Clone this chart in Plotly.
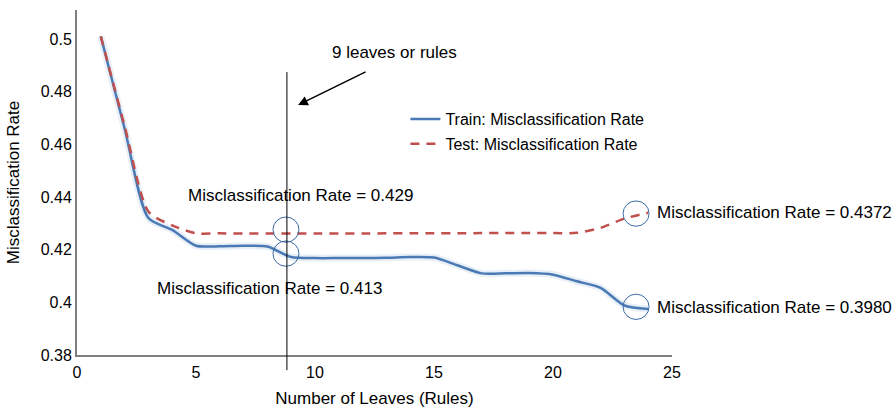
import plotly.graph_objects as go

leaves = [1, 2, 3, 4, 5, 6, 7, 8, 9, 10, 11, 12, 13, 14, 15, 16, 17, 18, 19, 20, 21, 22, 23, 24]
train_rate = [0.501, 0.466, 0.432, 0.4275, 0.4215, 0.4213, 0.4215, 0.4212, 0.4172, 0.4168,
              0.4168, 0.4168, 0.4169, 0.4172, 0.4170, 0.4140, 0.4110, 0.4110, 0.4111, 0.4105,
              0.4080, 0.4055, 0.3988, 0.3975]
test_rate = [0.501, 0.467, 0.4345, 0.4292, 0.4262, 0.4262, 0.4261, 0.4261, 0.4261, 0.4261,
             0.4261, 0.4261, 0.4262, 0.4262, 0.4262, 0.4262, 0.4263, 0.4263, 0.4263, 0.4263,
             0.4264, 0.4283, 0.4318, 0.4340]

x_ticks = [0, 5, 10, 15, 20, 25]
y_ticks = [0.38, 0.40, 0.42, 0.44, 0.46, 0.48, 0.50]
y_tick_labels = ["0.38", "0.4", "0.42", "0.44", "0.46", "0.48", "0.5"]

# highlighted points (circles) and their labels
circle_x = [8.78, 8.78, 23.49, 23.49]
circle_y = [0.4276, 0.4185, 0.4337, 0.3983]
label_text = ["Misclassification Rate = 0.429", "Misclassification Rate = 0.413",
              "Misclassification Rate = 0.4372", "Misclassification Rate = 0.3980"]
label_x = [4.58, 3.28, 24.28, 24.28]
label_y = [0.4406, 0.4051, 0.4341, 0.3979]

cut_leaves = 8.82
FONT = "Arial, Liberation Sans, sans-serif"

fig = go.Figure()
fig.add_trace(go.Scatter(x=leaves, y=train_rate, mode="lines", showlegend=False, hoverinfo="skip",
                         line=dict(color="rgba(79,129,189,0.13)", width=7, shape="spline", smoothing=0.7)))
fig.add_trace(go.Scatter(x=leaves, y=train_rate, mode="lines", name="Train: Misclassification Rate",
                         legendgroup="a",
                         line=dict(color="#4a7ab5", width=2.5, shape="spline", smoothing=0.7)))
fig.add_trace(go.Scatter(x=leaves, y=test_rate, mode="lines", name="Test: Misclassification Rate",
                         legendgroup="b",
                         line=dict(color="#c0504d", width=2.5, dash="9px,7px", shape="spline", smoothing=0.7)))

shapes = []
rx, ry = 0.546, 0.0048
for cx, cy in zip(circle_x, circle_y):
    shapes.append(dict(type="circle", xref="x", yref="y", x0=cx - rx, x1=cx + rx, y0=cy - ry, y1=cy + ry,
                       line=dict(color="#3d6aa6", width=1)))
shapes.append(dict(type="line", xref="x", yref="paper", x0=cut_leaves, x1=cut_leaves, y0=-0.044, y1=0.82,
                   line=dict(color="black", width=1)))

annotations = []
for t, lx, ly in zip(label_text, label_x, label_y):
    annotations.append(dict(x=lx, y=ly, xref="x", yref="y", text=t, showarrow=False, xanchor="left",
                            yanchor="middle", font=dict(family=FONT, size=17, color="black")))
annotations.append(dict(x=9.29, y=0.4749, xref="x", yref="y", text="", showarrow=True, ax=69, ay=-34,
                        arrowhead=2, arrowsize=1.3, arrowwidth=1.5, arrowcolor="black"))
annotations.append(dict(x=13.32, y=0.4947, xref="x", yref="y", text="9 leaves or rules", showarrow=False,
                        font=dict(family=FONT, size=17, color="black")))

fig.update_layout(
    width=896, height=408,
    margin=dict(l=77, r=224, t=10, b=53),
    plot_bgcolor="white", paper_bgcolor="white",
    font=dict(family=FONT, size=16, color="black"),
    shapes=shapes, annotations=annotations,
    legend=dict(x=0.552, y=0.733, xanchor="left", yanchor="top", bgcolor="rgba(0,0,0,0)",
                font=dict(family=FONT, size=16), tracegroupgap=1, traceorder="grouped"),
    xaxis=dict(range=[0, 25], tickvals=x_ticks, showgrid=False, zeroline=False, showline=True,
               linecolor="#7f7f7f", linewidth=2, ticks="", tickfont=dict(size=16), automargin=False,
               ticklabelstandoff=2,
               title=dict(text="Number of Leaves (Rules)", font=dict(size=17), standoff=17)),
    yaxis=dict(range=[0.38, 0.511], tickvals=y_ticks, ticktext=y_tick_labels, showgrid=False,
               zeroline=False, showline=True, linecolor="#7f7f7f", linewidth=2, ticks="",
               tickfont=dict(size=16), automargin=False,
               title=dict(text="Misclassification Rate", font=dict(size=17), standoff=17)),
)

fig.write_html("out.html")
